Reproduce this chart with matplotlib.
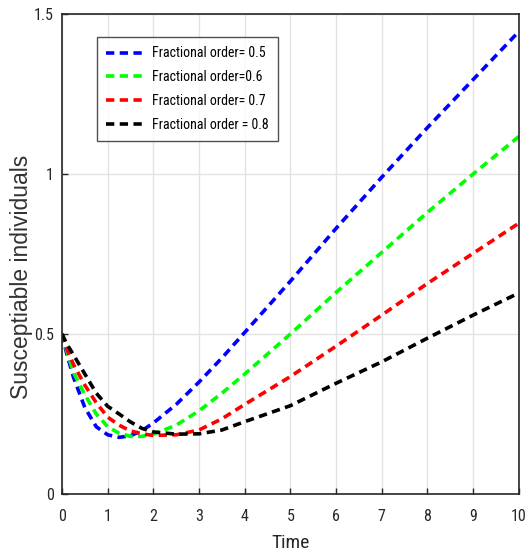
import matplotlib
matplotlib.use("Agg")
import matplotlib.pyplot as plt

plt.rcParams['font.family'] = ['Roboto Condensed', 'Liberation Sans', 'DejaVu Sans']

time = [0, 0.1, 0.25, 0.5, 0.75, 1, 1.25, 1.5, 1.75, 2, 2.5, 3, 3.5, 4, 5, 6, 7, 8, 9, 10]
s_05 = [0.5, 0.44, 0.365, 0.27, 0.21, 0.185, 0.177, 0.182, 0.198, 0.222, 0.28, 0.35, 0.425, 0.505, 0.665, 0.83, 0.99, 1.145, 1.295, 1.445]
s_06 = [0.5, 0.45, 0.38, 0.31, 0.25, 0.21, 0.19, 0.18, 0.18, 0.187, 0.215, 0.26, 0.315, 0.375, 0.5, 0.63, 0.755, 0.88, 1.0, 1.117]
s_07 = [0.5, 0.455, 0.405, 0.34, 0.285, 0.24, 0.215, 0.197, 0.188, 0.183, 0.185, 0.2, 0.235, 0.28, 0.367, 0.462, 0.559, 0.658, 0.752, 0.846]
s_08 = [0.5, 0.47, 0.435, 0.375, 0.315, 0.274, 0.25, 0.225, 0.205, 0.194, 0.187, 0.188, 0.2, 0.226, 0.276, 0.346, 0.413, 0.487, 0.559, 0.628]
labels = ['Fractional order= 0.5', 'Fractional order=0.6', 'Fractional order= 0.7', 'Fractional order = 0.8']
colors = ['#0000ff', '#00ff00', '#ff0000', '#000000']
xticks = list(range(0, 11))
yticks = [0, 0.5, 1, 1.5]
ytick_labels = ['0', '0.5', '1', '1.5']

fig = plt.figure(figsize=(5.3, 5.56), dpi=100)
ax = fig.add_axes([0.117, 0.1115, 0.862, 0.8635])

for ys, lab, c in zip([s_05, s_06, s_07, s_08], labels, colors):
    ax.plot(time, ys, color=c, lw=2.6, dashes=(2.3, 1.5), label=lab)

ax.set_xlim(0, 10)
ax.set_ylim(0, 1.5)
ax.set_xticks(xticks)
ax.set_yticks(yticks)
ax.set_yticklabels(ytick_labels)
ax.grid(True, color='#e3e3e3', lw=1)
ax.set_axisbelow(True)
ax.tick_params(direction='in', length=4, width=1, colors='#262626', labelsize=11.5, pad=6)
ax.tick_params(axis='x', pad=11)
for sp in ax.spines.values():
    sp.set_color('#262626')
    sp.set_linewidth(1.2)
ax.set_xlabel('Time', fontsize=14, color='#262626', labelpad=7)
ax.set_ylabel('Susceptiable individuals', fontsize=16.5, color='#333333',
              family=['Liberation Sans', 'DejaVu Sans'])
ax.yaxis.set_label_coords(-0.064, 0.452)

leg = ax.legend(loc='upper left', bbox_to_anchor=(0.0766, 0.952), borderaxespad=0,
                fontsize=10, frameon=True, fancybox=False, edgecolor='#262626',
                handlelength=2.95, handletextpad=0.36, labelspacing=0.7, borderpad=0.68)
leg.get_frame().set_linewidth(1)

fig.savefig('out.png', dpi=100)
